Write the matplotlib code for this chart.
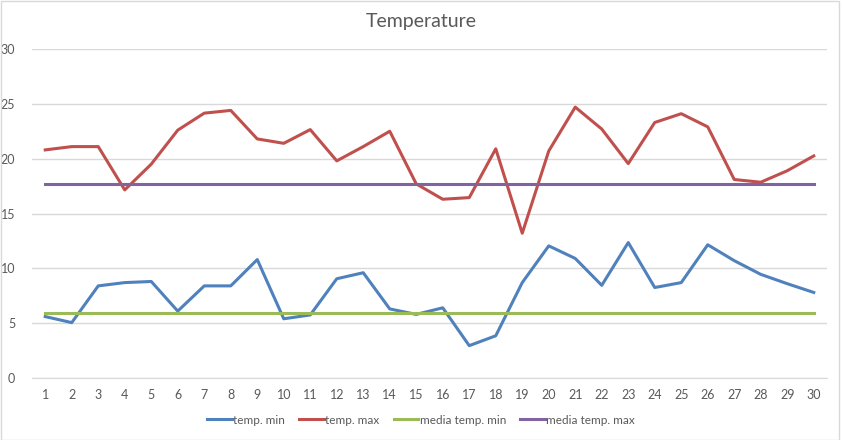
import numpy as np
import matplotlib
matplotlib.use("Agg")
import matplotlib.pyplot as plt
from matplotlib.patches import Rectangle

# dati
giorni = list(range(1, 31))
temp_min = [5.6, 5.05, 8.4, 8.7, 8.8, 6.1, 8.4, 8.4, 10.8, 5.4,
            5.75, 9.05, 9.6, 6.3, 5.8, 6.4, 2.95, 3.85, 8.7, 12.05,
            10.9, 8.45, 12.35, 8.25, 8.7, 12.15, 10.7, 9.45, 8.6, 7.8]
temp_max = [20.8, 21.1, 21.1, 17.15, 19.5, 22.6, 24.15, 24.4, 21.8, 21.4,
            22.65, 19.8, 21.1, 22.5, 17.7, 16.3, 16.45, 20.9, 13.2, 20.7,
            24.7, 22.7, 19.55, 23.3, 24.1, 22.9, 18.1, 17.85, 18.9, 20.25]
media_min = 5.95
media_max = 17.7

plt.rcParams['font.family'] = ['Lato', 'DejaVu Sans']
testo = '#595959'

fig = plt.figure(figsize=(8.42, 4.4), dpi=100)
ax = fig.add_axes([32/842, 62/440, 795/842, 329/440])

ax.plot(giorni, temp_min, color='#4F81BD', lw=2.2, label='temp. min')
ax.plot(giorni, temp_max, color='#C0504D', lw=2.2, label='temp. max')
ax.plot(giorni, [media_min]*len(giorni), color='#9BBB59', lw=2.2, label='media temp. min')
ax.plot(giorni, [media_max]*len(giorni), color='#8064A2', lw=2.2, label='media temp. max')

ax.set_xlim(0.5, 30.5)
ax.set_ylim(0, 30)
ax.set_xticks(giorni)
ax.set_yticks(range(0, 31, 5))
ax.tick_params(length=0, labelsize=9, colors=testo)
ax.tick_params(axis='x', pad=8)
ax.tick_params(axis='y', pad=12)
ax.grid(axis='y', color='#D9D9D9', lw=1)
ax.set_axisbelow(True)
for s in ax.spines.values():
    s.set_visible(False)
ax.spines['bottom'].set_visible(True)
ax.spines['bottom'].set_color('#D9D9D9')

fig.text(0.5, 1 - 21/440, 'Temperature', ha='center', va='center',
         fontsize=14, color=testo)

fig.legend(loc='center', bbox_to_anchor=(0.5, 1 - 420/440), ncol=4,
           frameon=False, fontsize=8.5, labelcolor=testo, handlelength=2.1,
           handletextpad=0.1, columnspacing=1.2)

fig.patches.append(Rectangle((0.5/842, 0.5/440), 1 - 4/842, 1 - 2/440,
                             transform=fig.transFigure, fill=False,
                             edgecolor='#D9D9D9', lw=1))

fig.savefig('out.png', dpi=100)
